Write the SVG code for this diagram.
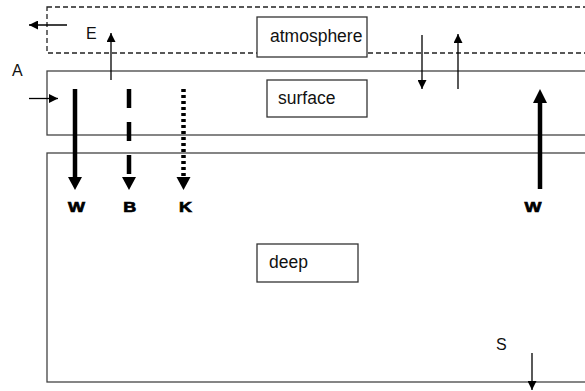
<svg xmlns="http://www.w3.org/2000/svg" width="585" height="391" viewBox="0 0 585 391">
  <style>
    .layer { fill: none; stroke: #444; stroke-width: 1.3; }
    .dash { stroke-dasharray: 5 3; stroke: #222; }
    .lbox { fill: #fff; stroke: #333; stroke-width: 1.3; }
    .txt { font-family: "Liberation Sans", Arial, sans-serif; font-size: 17.5px; fill: #111; }
    .sym { font-family: "Liberation Sans", Arial, sans-serif; font-size: 16px; fill: #111; }
    .bold { font-family: "Liberation Sans", Arial, sans-serif; font-size: 15px; font-weight: bold; fill: #000; stroke: #000; stroke-width: 0.7; }
    .thin { stroke: #000; stroke-width: 1.3; fill: none; }
    .thick { stroke: #000; stroke-width: 4.5; fill: none; }
  </style>
  <defs>
    <marker id="small" viewBox="0 0 10 10" refX="10" refY="5" markerWidth="9" markerHeight="9" markerUnits="userSpaceOnUse" orient="auto">
      <path d="M0,0 L10,5 L0,10 z" fill="#000"/>
    </marker>
  </defs>

  <!-- layers -->
  <g id="atmosphere">
    <rect class="layer dash" x="47" y="7" width="560" height="46"/>
    <rect class="lbox" x="257" y="17" width="110" height="40"/>
    <text class="txt" x="270" y="42">atmosphere</text>
  </g>
  <g id="surface">
    <rect class="layer" x="47" y="71" width="560" height="64"/>
    <rect class="lbox" x="267" y="80" width="100" height="37"/>
    <text class="txt" x="278" y="104">surface</text>
  </g>
  <g id="deep">
    <rect class="layer" x="47" y="153" width="560" height="229"/>
    <rect class="lbox" x="257" y="244" width="101" height="38"/>
    <text class="txt" x="269" y="268">deep</text>
  </g>

  <!-- labels; wide heavy capitals -->
  <g id="labels">
    <text class="sym" x="86" y="39">E</text>
    <text class="sym" x="12" y="76">A</text>
    <text class="sym" x="496" y="350">S</text>
    <text class="bold" transform="translate(76.5 212) scale(1.2 1)" text-anchor="middle">W</text>
    <text class="bold" transform="translate(129.7 212) scale(1.2 1)" text-anchor="middle">B</text>
    <text class="bold" transform="translate(185.5 212) scale(1.2 1)" text-anchor="middle">K</text>
    <text class="bold" transform="translate(533 212) scale(1.2 1)" text-anchor="middle">W</text>
  </g>

  <!-- connectors -->
  <g id="connectors">
    <line class="thin" x1="67" y1="25" x2="29" y2="25" marker-end="url(#small)"/>
    <line class="thin" x1="111" y1="80" x2="111" y2="33" marker-end="url(#small)"/>
    <line class="thin" x1="29" y1="98.5" x2="58" y2="98.5" marker-end="url(#small)"/>
    <line class="thin" x1="422" y1="35" x2="422" y2="89" marker-end="url(#small)"/>
    <line class="thin" x1="458" y1="89" x2="458" y2="34" marker-end="url(#small)"/>
    <line class="thin" x1="532" y1="353" x2="532" y2="390" marker-end="url(#small)"/>

    <line class="thick" x1="75" y1="89" x2="75" y2="178"/>
    <path d="M68,177 L82,177 L75,190 z" fill="#000"/>

    <line class="thick" x1="129" y1="89" x2="129" y2="178" stroke-dasharray="19 14"/>
    <path d="M122,177 L136,177 L129,190 z" fill="#000"/>

    <line class="thick" x1="183.5" y1="89" x2="183.5" y2="178" stroke-width="4" stroke-dasharray="3 3"/>
    <path d="M176.5,177 L190.5,177 L183.5,190 z" fill="#000"/>

    <line class="thick" x1="540" y1="189" x2="540" y2="100"/>
    <path d="M533,103 L547,103 L540,89 z" fill="#000"/>
  </g>
</svg>
